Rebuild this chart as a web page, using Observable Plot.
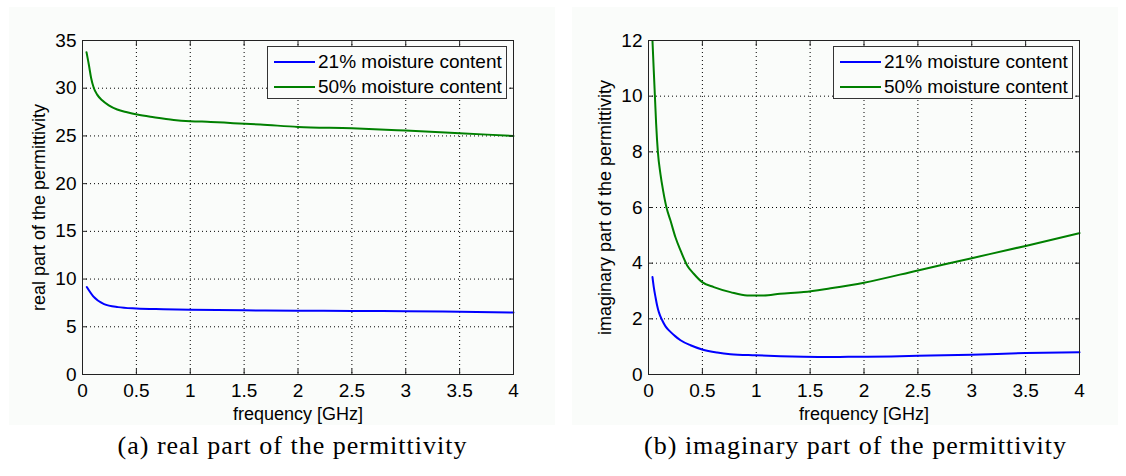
<!DOCTYPE html>
<html><head><meta charset="utf-8">
<script src="https://cdn.jsdelivr.net/npm/d3@7"></script>
<script src="https://cdn.jsdelivr.net/npm/@observablehq/plot@0.6"></script>
<style>
body{margin:0;background:#fff;}
#wrap{position:relative;width:1126px;height:476px;overflow:hidden;}
.panel{position:absolute;top:0;width:563px;height:476px;}
.bg{position:absolute;left:9px;top:7px;width:546px;height:418px;background:#fafcfa;}
.panel svg{position:absolute;left:0;top:0;}
.cap{position:absolute;left:11px;width:563px;top:431px;line-height:30px;text-align:center;font-family:"Liberation Serif","Times New Roman",serif;font-size:26px;letter-spacing:1px;color:#000;white-space:nowrap;}
.legend{position:absolute;top:46px;width:238px;height:51px;border:1px solid #333;background:#fafcfa;font-family:"Liberation Sans",Arial,sans-serif;font-size:19px;color:#000;}
.row{display:flex;align-items:center;height:25px;}
.row:first-child{margin-top:2px;}
.sw{width:41px;height:2px;margin-left:6px;margin-right:3px;}
</style>
</head><body>
<div id="wrap"></div>
<script>
// ---- data ----
const xTicks = [0, 0.5, 1, 1.5, 2, 2.5, 3, 3.5, 4];
const realYTicks = [0, 5, 10, 15, 20, 25, 30, 35];
const imagYTicks = [0, 2, 4, 6, 8, 10, 12];
const seriesNames = ["21% moisture content", "50% moisture content"];
const seriesColors = ["#0000ff", "#008000"];

// real part, 21 %
const realF21 = [0.04, 0.1, 0.2, 0.33, 0.5, 0.75, 1, 1.5, 2, 2.5, 3, 3.5, 4];
const realV21 = [9.16, 8.18, 7.38, 7.06, 6.92, 6.84, 6.78, 6.72, 6.68, 6.66, 6.64, 6.58, 6.5];
// real part, 50 %
const realF50 = [0.037, 0.059, 0.08, 0.105, 0.136, 0.182, 0.244, 0.322, 0.414, 0.507, 0.662, 0.847, 1.0, 1.19, 1.4, 1.65, 2, 2.5, 3, 3.5, 4];
const realV50 = [33.78, 32.46, 31.07, 30.02, 29.33, 28.74, 28.21, 27.77, 27.48, 27.24, 26.96, 26.68, 26.55, 26.47, 26.34, 26.2, 25.94, 25.8, 25.56, 25.28, 25.0];
// imaginary part, 21 %
const imagF21 = [0.037, 0.049, 0.065, 0.08, 0.096, 0.127, 0.158, 0.204, 0.25, 0.297, 0.39, 0.498, 0.637, 0.76, 0.994, 1.226, 1.44, 1.69, 2, 2.25, 2.5, 3, 3.5, 4];
const imagV21 = [3.5, 3.14, 2.78, 2.48, 2.24, 1.95, 1.73, 1.53, 1.37, 1.23, 1.05, 0.9, 0.79, 0.73, 0.69, 0.66, 0.64, 0.63, 0.64, 0.65, 0.67, 0.71, 0.77, 0.8];
// imaginary part, 50 %
const imagF50 = [0.037, 0.049, 0.059, 0.071, 0.087, 0.111, 0.136, 0.167, 0.204, 0.25, 0.297, 0.359, 0.42, 0.498, 0.606, 0.76, 0.915, 1.07, 1.22, 1.44, 1.69, 2, 2.5, 3, 3.5, 4];
const imagV50 = [11.98, 10.91, 10.04, 9.0, 8.0, 7.2, 6.6, 6.0, 5.53, 4.93, 4.46, 3.92, 3.62, 3.32, 3.14, 2.96, 2.84, 2.84, 2.9, 2.96, 3.1, 3.3, 3.74, 4.18, 4.62, 5.08];

const fmt = d => String(d);
const zip = (fs, vs) => fs.map((f, i) => ({f, v: vs[i]}));

function makePlot(f21, v21, f50, v50, yDomain, yTicks, yLabel, marginLeft, marginRight) {
  return Plot.plot({
    width: 563, height: 425,
    marginLeft, marginRight, marginTop: 40, marginBottom: 51,
    style: {fontFamily: "'Liberation Sans', Arial, sans-serif", fontSize: "18px", background: "transparent", color: "#000", overflow: "visible"},
    x: {domain: [0, 4]},
    y: {domain: yDomain},
    marks: [
      Plot.gridX(xTicks, {stroke: "#000", strokeOpacity: 1, strokeWidth: 1, strokeDasharray: "1,3"}),
      Plot.gridY(yTicks, {stroke: "#000", strokeOpacity: 1, strokeWidth: 1, strokeDasharray: "1,3"}),
      Plot.line(zip(f21, v21), {x: "f", y: "v", stroke: seriesColors[0], strokeWidth: 2, curve: "monotone-x"}),
      Plot.line(zip(f50, v50), {x: "f", y: "v", stroke: seriesColors[1], strokeWidth: 2, curve: "monotone-x"}),
      Plot.frame({stroke: "#222"}),
      Plot.axisX(xTicks, {tickSize: 0, tickPadding: 9, tickFormat: fmt, fontSize: 19, label: null}),
      Plot.axisX({tickSize: 0, ticks: [], label: "frequency [GHz]", labelAnchor: "center", labelArrow: "none", labelOffset: 45}),
      Plot.axisX(xTicks, {tickSize: -5, tickFormat: () => "", label: null, stroke: "#222"}),
      Plot.axisX(xTicks, {anchor: "top", tickSize: -5, tickFormat: () => "", label: null, stroke: "#222"}),
      Plot.axisY(yTicks, {tickSize: 0, tickPadding: 6, tickFormat: fmt, fontSize: 19, label: null}),
      Plot.axisY({tickSize: 0, ticks: [], label: yLabel, labelAnchor: "center", labelArrow: "none", labelOffset: 50}),
      Plot.axisY(yTicks, {tickSize: -5, tickFormat: () => "", label: null, stroke: "#222"}),
      Plot.axisY(yTicks, {anchor: "right", tickSize: -5, tickFormat: () => "", label: null, stroke: "#222"})
    ]
  });
}

function makePanel(left, plot, legendLeft, caption) {
  const p = document.createElement("div");
  p.className = "panel";
  p.style.left = left + "px";
  const bg = document.createElement("div");
  bg.className = "bg";
  p.appendChild(bg);
  p.appendChild(plot);
  const lg = document.createElement("div");
  lg.className = "legend";
  lg.style.left = legendLeft + "px";
  seriesNames.forEach((n, i) => {
    const r = document.createElement("div");
    r.className = "row";
    const sw = document.createElement("span");
    sw.className = "sw";
    sw.style.background = seriesColors[i];
    const t = document.createElement("span");
    t.textContent = n;
    r.appendChild(sw); r.appendChild(t);
    lg.appendChild(r);
  });
  p.appendChild(lg);
  const c = document.createElement("div");
  c.className = "cap";
  c.textContent = caption;
  p.appendChild(c);
  document.getElementById("wrap").appendChild(p);
}

makePanel(0, makePlot(realF21, realV21, realF50, realV50, [0, 35], realYTicks, "real part of the permittivity", 82, 50), 267, "(a) real part of the permittivity");
makePanel(563, makePlot(imagF21, imagV21, imagF50, imagV50, [0, 12], imagYTicks, "imaginary part of the permittivity", 85, 47), 270, "(b) imaginary part of the permittivity");
</script>
</body></html>
